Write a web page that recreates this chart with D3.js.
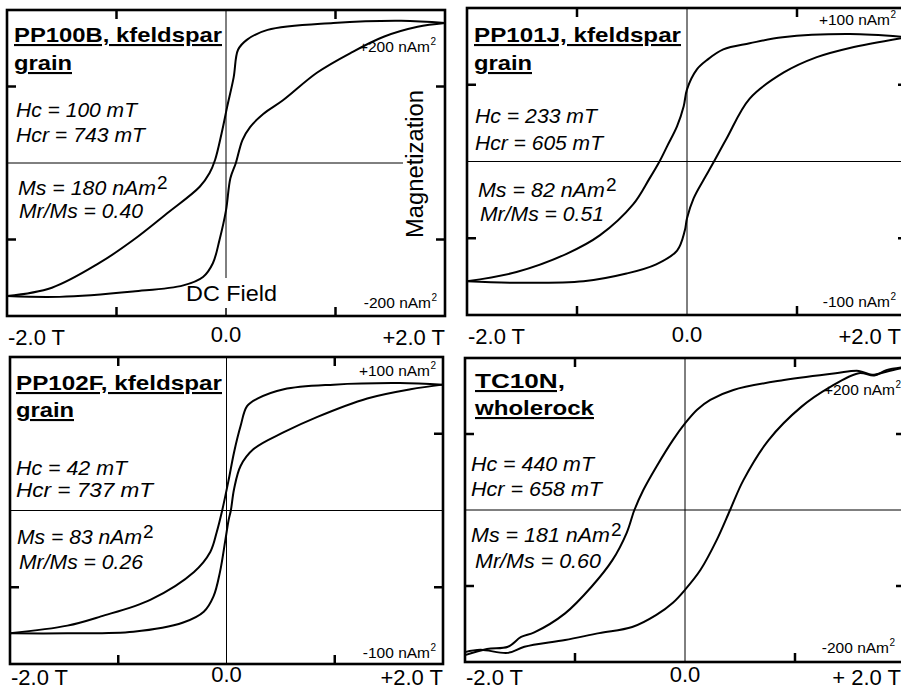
<!DOCTYPE html>
<html>
<head>
<meta charset="utf-8">
<script src="https://cdn.jsdelivr.net/npm/d3@7"></script>
<style>
  body { margin: 0; background: #fff; }
  text { font-family: "Liberation Sans", Arial, sans-serif; fill: #000; }
</style>
</head>
<body>
<svg id="chart" width="901" height="691"></svg>
<script>
// hysteresis loops, [field T, moment nAm2]
// upper branch: field going +2 -> -2, lower branch: -2 -> +2
var pp100bUpper = [[2,183],[1.6,186],[0.98,183],[0.38,174],[0.19,161],[0.11,148],[0.07,112],[0.01,73],[-0.04,39],[-0.10,4],[-0.15,-13],[-0.24,-31],[-0.54,-66],[-0.85,-101],[-1.16,-131],[-1.59,-163],[-2,-174]];
var pp100bLower = [[-2,-174],[-1.52,-175],[-0.85,-168],[-0.39,-160],[-0.21,-149],[-0.12,-131],[-0.06,-101],[0,-62],[0.04,-20],[0.09,0],[0.15,30],[0.22,47],[0.34,64],[0.52,82],[0.83,118],[1.14,144],[1.44,165],[1.75,178],[2,183]];

var pp101jUpper = [[2,81],[1.48,83],[0.87,81],[0.57,77],[0.33,73],[0.18,66],[0.09,60],[0,47],[-0.03,36],[-0.09,23],[-0.18,10],[-0.25,0],[-0.34,-11],[-0.49,-28],[-0.79,-48],[-1.09,-60],[-1.55,-72],[-2,-78]];
var pp101jLower = [[-2,-78],[-1.55,-79],[-0.94,-78],[-0.55,-73],[-0.28,-67],[-0.09,-58],[-0.02,-45],[0,-37],[0.06,-24],[0.15,-12],[0.23,-2],[0.36,15],[0.57,41],[0.88,58],[1.18,68],[1.48,74],[2,81]];

var pp102fUpper = [[2,82],[1.6,83],[0.99,82],[0.53,79],[0.29,73],[0.19,68],[0.13,55],[0.07,38],[0.02,20],[-0.04,0],[-0.09,-14],[-0.15,-27],[-0.30,-40],[-0.70,-58],[-1.16,-69],[-1.47,-75],[-2,-80]];
var pp102fLower = [[-2,-80],[-1.47,-80],[-0.86,-79],[-0.40,-73],[-0.21,-66],[-0.12,-56],[-0.06,-40],[-0.01,-19],[0.02,-6],[0.04,0],[0.07,14],[0.13,29],[0.25,40],[0.53,51],[0.84,61],[1.30,73],[1.7,79],[2,82]];

var tc10nUpper = [[2,188],[1.83,182],[1.7,178],[1.58,183],[1.37,180],[0.90,171],[0.44,158],[0.23,145],[0.11,132],[0,114],[-0.11,92],[-0.26,57],[-0.38,26],[-0.46,0],[-0.53,-30],[-0.66,-66],[-0.85,-101],[-1.09,-136],[-1.37,-161],[-1.49,-167],[-1.61,-180],[-1.80,-183],[-2,-191]];
var tc10nLower = [[-2,-187],[-1.86,-184],[-1.61,-188],[-1.46,-180],[-1.09,-171],[-0.78,-162],[-0.48,-154],[-0.26,-138],[-0.11,-122],[0,-105],[0.14,-79],[0.29,-39],[0.41,0],[0.53,39],[0.76,92],[1.06,136],[1.31,161],[1.58,180],[1.72,177],[1.83,184],[2,188]];

// panel texts
var titles = [["PP100B, kfeldspar","grain"],["PP101J, kfeldspar","grain"],["PP102F, kfeldspar","grain"],["TC10N,","wholerock"]];
var hcLines = ["Hc = 100 mT","Hc = 233 mT","Hc = 42 mT","Hc = 440 mT"];
var hcrLines = ["Hcr = 743 mT","Hcr = 605 mT","Hcr =  737 mT","Hcr = 658 mT"];
var msLines = ["Ms = 180 nAm","Ms = 82 nAm","Ms = 83 nAm","Ms = 181 nAm"];
var mrLines = ["Mr/Ms = 0.40","Mr/Ms = 0.51","Mr/Ms = 0.26","Mr/Ms = 0.60"];
var fullScale = [200, 100, 100, 200];
var xTickLabels = ["-2.0 T","0.0","+2.0 T"];
var xTickLabelsLast = ["-2.0 T","0.0","+ 2.0 T"];

var svg = d3.select("#chart");

// frame boxes in page pixels
var panels = [
  {l:7,   t:10,  r:445, b:316, loops:[pp100bUpper, pp100bLower], lab:{top:52, bot:308, rt:430, rb:431}, axisY:345, zeroY:342},
  {l:467, t:8,   r:907, b:315, loops:[pp101jUpper, pp101jLower], lab:{top:25, bot:307, rt:890, rb:890}, axisY:344, zeroY:342},
  {l:10,  t:357, r:443, b:664, loops:[pp102fUpper, pp102fLower], lab:{top:376, bot:658, rt:430, rb:430}, axisY:685, zeroY:682},
  {l:465, t:358, r:905, b:662, loops:[tc10nUpper, tc10nLower], lab:{top:395, bot:653, rt:895, rb:889}, axisY:685, zeroY:682}
];
// x / baseline of each text line, plus the width it takes in the picture
var textPos = [
  {tx:14, tb:42, tw:208, gb:70, gw:58, hx:16, hb:117, hw:121, hrb:142, hrw:129, mx:18, mb:195, mw:138, rx:19, rb:218, rw:124},
  {tx:474, tb:42, tw:207, gb:70, gw:58, hx:475, hb:123, hw:122, hrb:150, hrw:128, mx:478, mb:197, mw:127, rx:480, rb:221, rw:124},
  {tx:16, tb:390, tw:206, gb:417, gw:58, hx:16, hb:475, hw:111, hrb:497, hrw:137, mx:17, mb:544, mw:125, rx:19, rb:569, rw:124},
  {tx:475, tb:388, tw:90, gb:415, gw:119, hx:471, hb:471, hw:123, hrb:496, hrw:131, mx:471, mb:542, mw:139, rx:475, rb:568, rw:126}
];

function fitText(sel, w) {
  return sel.attr("textLength", w).attr("lengthAdjust", "spacingAndGlyphs");
}

panels.forEach(function(p, i) {
  var x = d3.scaleLinear().domain([-2, 2]).range([p.l, p.r]);
  var y = d3.scaleLinear().domain([-fullScale[i], fullScale[i]]).range([p.b, p.t]);
  var g = svg.append("g");

  // zero lines (first panel leaves room for the axis names)
  var hEnd = i === 0 ? 403 : p.r;
  var vEnd = i === 0 ? 278 : p.b;
  g.append("line").attr("x1", p.l).attr("x2", hEnd).attr("y1", y(0)).attr("y2", y(0))
    .attr("stroke", "#000").attr("stroke-width", 1);
  g.append("line").attr("x1", x(0)).attr("x2", x(0)).attr("y1", p.t).attr("y2", vEnd)
    .attr("stroke", "#000").attr("stroke-width", 1);
  if (i === 0) {
    g.append("line").attr("x1", x(0)).attr("x2", x(0)).attr("y1", p.b - 8).attr("y2", p.b)
      .attr("stroke", "#000").attr("stroke-width", 1.5);
  }

  // ticks at +-1 T and +-half scale
  var tk = 9;
  [-1, 1].forEach(function(v) {
    g.append("line").attr("x1", x(v)).attr("x2", x(v)).attr("y1", p.t).attr("y2", p.t + tk)
      .attr("stroke", "#000").attr("stroke-width", 2.5);
    g.append("line").attr("x1", x(v)).attr("x2", x(v)).attr("y1", p.b - tk).attr("y2", p.b)
      .attr("stroke", "#000").attr("stroke-width", 2.5);
  });
  [-fullScale[i] / 2, fullScale[i] / 2].forEach(function(v) {
    if (!(i === 2 && v > 0)) {
      g.append("line").attr("x1", p.l).attr("x2", p.l + tk).attr("y1", y(v)).attr("y2", y(v))
        .attr("stroke", "#000").attr("stroke-width", 2.5);
    }
    g.append("line").attr("x1", p.r - tk).attr("x2", p.r).attr("y1", y(v)).attr("y2", y(v))
      .attr("stroke", "#000").attr("stroke-width", 2.5);
  });

  // loops
  var line = d3.line().x(function(d) { return x(d[0]); }).y(function(d) { return y(d[1]); })
    .curve(d3.curveCatmullRom.alpha(0.5));
  p.loops.forEach(function(branch) {
    g.append("path").datum(branch).attr("d", line)
      .attr("fill", "none").attr("stroke", "#000").attr("stroke-width", 2);
  });

  // frame
  g.append("rect").attr("x", p.l).attr("y", p.t).attr("width", p.r - p.l).attr("height", p.b - p.t)
    .attr("fill", "none").attr("stroke", "#000").attr("stroke-width", 2.6);

  // title
  var tp = textPos[i];
  fitText(g.append("text").attr("x", tp.tx).attr("y", tp.tb).attr("font-size", 21).attr("font-weight", "bold")
    .attr("text-decoration", "underline").text(titles[i][0]), tp.tw);
  fitText(g.append("text").attr("x", tp.tx).attr("y", tp.gb).attr("font-size", 21).attr("font-weight", "bold")
    .attr("text-decoration", "underline").text(titles[i][1]), tp.gw);

  // parameters
  fitText(g.append("text").attr("x", tp.hx).attr("y", tp.hb).attr("font-size", 20).attr("font-style", "italic")
    .text(hcLines[i]), tp.hw);
  fitText(g.append("text").attr("x", tp.hx).attr("y", tp.hrb).attr("font-size", 20).attr("font-style", "italic")
    .text(hcrLines[i]), tp.hrw);
  fitText(g.append("text").attr("x", tp.mx).attr("y", tp.mb).attr("font-size", 20).attr("font-style", "italic")
    .text(msLines[i]), tp.mw);
  g.append("text").attr("x", tp.mx + tp.mw + 1).attr("y", tp.mb - 6).attr("font-size", 19).text("2");
  fitText(g.append("text").attr("x", tp.rx).attr("y", tp.rb).attr("font-size", 20).attr("font-style", "italic")
    .text(mrLines[i]), tp.rw);

  // scale labels in corners
  [["+", p.lab.top, p.lab.rt], ["-", p.lab.bot, p.lab.rb]].forEach(function(s) {
    g.append("text").attr("x", s[2]).attr("y", s[1]).attr("font-size", 15.5)
      .attr("text-anchor", "end").text(s[0] + fullScale[i] + " nAm");
    g.append("text").attr("x", s[2] + 0.5).attr("y", s[1] - 7).attr("font-size", 10).text("2");
  });

  // field labels under the frame
  var labs = i === 3 ? xTickLabelsLast : xTickLabels;
  g.append("text").attr("x", p.l + 1).attr("y", p.axisY).attr("font-size", 22).text(labs[0]);
  g.append("text").attr("x", x(0)).attr("y", p.zeroY).attr("font-size", 22).attr("text-anchor", "middle").text(labs[1]);
  g.append("text").attr("x", Math.min(p.r, 901)).attr("y", p.axisY).attr("font-size", 22).attr("text-anchor", "end").text(labs[2]);
});

// axis names drawn once in the first panel
fitText(svg.append("text").attr("x", 186).attr("y", 301).attr("font-size", 22).text("DC Field"), 91);
fitText(svg.append("text").attr("transform", "translate(423,90) rotate(-90)").attr("x", -148).attr("y", 0)
  .attr("font-size", 23).text("Magnetization"), 148);
</script>
</body>
</html>
